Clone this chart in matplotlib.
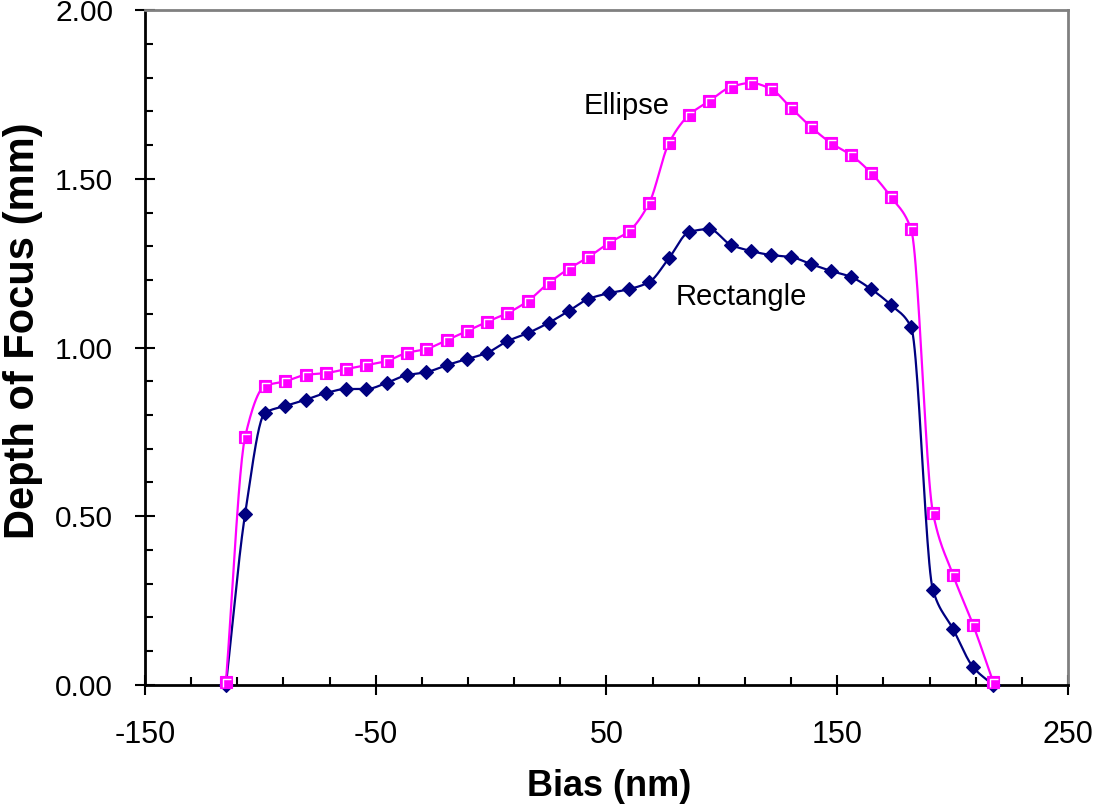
import numpy as np
import matplotlib
matplotlib.use('Agg')
import matplotlib.pyplot as plt
from matplotlib.path import Path
from matplotlib.ticker import MultipleLocator, FormatStrFormatter

plt.rcParams['font.family'] = ['Liberation Sans', 'DejaVu Sans']
plt.rcParams['axes.unicode_minus'] = False

# bias (nm) and depth of focus readings
bias = [-114.9, -106.6, -98.0, -89.1, -80.4, -71.7, -62.9, -54.0, -45.3, -36.6,
        -28.0, -19.1, -10.4, -1.8, 7.1, 16.0, 24.9, 33.6, 42.2, 51.1,
        59.8, 68.5, 77.1, 85.8, 94.5, 104.0, 112.6, 121.3, 130.0, 138.7,
        147.3, 156.0, 164.7, 173.3, 182.0, 191.5, 200.2, 208.9, 217.6]
rectangle = [0.0, 0.507, 0.806, 0.827, 0.845, 0.865, 0.877, 0.877, 0.895, 0.918,
             0.927, 0.948, 0.966, 0.984, 1.019, 1.043, 1.073, 1.108, 1.144, 1.161,
             1.173, 1.194, 1.265, 1.342, 1.351, 1.304, 1.286, 1.274, 1.268, 1.247,
             1.227, 1.209, 1.173, 1.126, 1.061, 0.281, 0.166, 0.053, 0.0]
ellipse = [0.01, 0.735, 0.886, 0.900, 0.919, 0.924, 0.936, 0.948, 0.960, 0.984,
           0.996, 1.022, 1.049, 1.076, 1.102, 1.138, 1.191, 1.233, 1.268, 1.310,
           1.345, 1.428, 1.606, 1.689, 1.730, 1.772, 1.784, 1.766, 1.710, 1.653,
           1.606, 1.570, 1.517, 1.446, 1.351, 0.510, 0.326, 0.178, 0.009]


def smooth(x, y, n=24):
    # smoothed line through the points, monotone cubic (no overshoot)
    x = np.asarray(x, float)
    y = np.asarray(y, float)
    h = np.diff(x)
    d = np.diff(y) / h
    m = np.zeros_like(y)
    for k in range(1, len(x) - 1):
        if d[k - 1] * d[k] > 0:
            w1 = 2 * h[k] + h[k - 1]
            w2 = h[k] + 2 * h[k - 1]
            m[k] = (w1 + w2) / (w1 / d[k - 1] + w2 / d[k])
    m[0] = d[0]
    m[-1] = d[-1]
    xs, ys = [x[0]], [y[0]]
    t = np.linspace(0, 1, n + 1)[1:]
    for k in range(len(x) - 1):
        h00 = 2 * t**3 - 3 * t**2 + 1
        h10 = t**3 - 2 * t**2 + t
        h01 = -2 * t**3 + 3 * t**2
        h11 = t**3 - t**2
        xs.extend(x[k] + t * h[k])
        ys.extend(h00 * y[k] + h10 * h[k] * m[k] + h01 * y[k + 1] + h11 * h[k] * m[k + 1])
    return np.array(xs), np.array(ys)


fig = plt.figure(figsize=(10.94, 8.09), dpi=100)
ax = fig.add_axes([0.1325, 0.1533, 0.8437, 0.8343])

navy = '#000080'
pink = '#FF00FF'

sx, sy = smooth(bias, rectangle)
ax.plot(sx, sy, color=navy, lw=1.6, clip_on=False, zorder=3)
ax.plot(bias, rectangle, ls='none', marker='D', ms=7.4, color=navy, mec=navy,
        mew=0.8, clip_on=False, zorder=4)

sx, sy = smooth(bias, ellipse)
ax.plot(sx, sy, color=pink, lw=1.6, clip_on=False, zorder=5)
ax.plot(bias, ellipse, ls='none', marker='s', ms=8.8, color=pink, mec=pink,
        mew=0.8, clip_on=False, zorder=6)
corner = Path([(-0.28, -0.38), (-0.28, 0.28), (0.38, 0.28)],
              [Path.MOVETO, Path.LINETO, Path.LINETO])
ax.plot(bias, ellipse, ls='none', marker=corner, ms=6.7, mfc='none', mec='white',
        mew=1.0, clip_on=False, zorder=7)

ax.text(58.9, 1.716, 'Ellipse', fontsize=21, ha='center', va='center')
ax.text(108.3, 1.150, 'Rectangle', fontsize=21, ha='center', va='center')

ax.set_xlim(-150, 250)
ax.set_ylim(0, 2.0)
ax.xaxis.set_major_locator(MultipleLocator(100, offset=50))
ax.xaxis.set_minor_locator(MultipleLocator(20, offset=10))
ax.yaxis.set_major_locator(MultipleLocator(0.5))
ax.yaxis.set_minor_locator(MultipleLocator(0.1))
ax.yaxis.set_major_formatter(FormatStrFormatter('%.2f'))

ax.tick_params(which='major', direction='inout', length=14, width=1.5)
ax.tick_params(which='minor', direction='in', length=6, width=1.5)
ax.tick_params(axis='x', which='major', pad=18, labelsize=22)
ax.tick_params(axis='y', which='major', pad=16, labelsize=21.5)

for s in ['left', 'bottom']:
    ax.spines[s].set_linewidth(2)
    ax.spines[s].set_color('black')
for s in ['top', 'right']:
    ax.spines[s].set_linewidth(2)
    ax.spines[s].set_color('#808080')

ax.set_xlabel('Bias (nm)', fontsize=26, fontweight='bold')
ax.set_ylabel('Depth of Focus (mm)', fontsize=30, fontweight='bold')
ax.xaxis.set_label_coords(0.503, -0.124)
ax.yaxis.set_label_coords(-0.111, 0.525)

fig.savefig('out.png', dpi=100)
